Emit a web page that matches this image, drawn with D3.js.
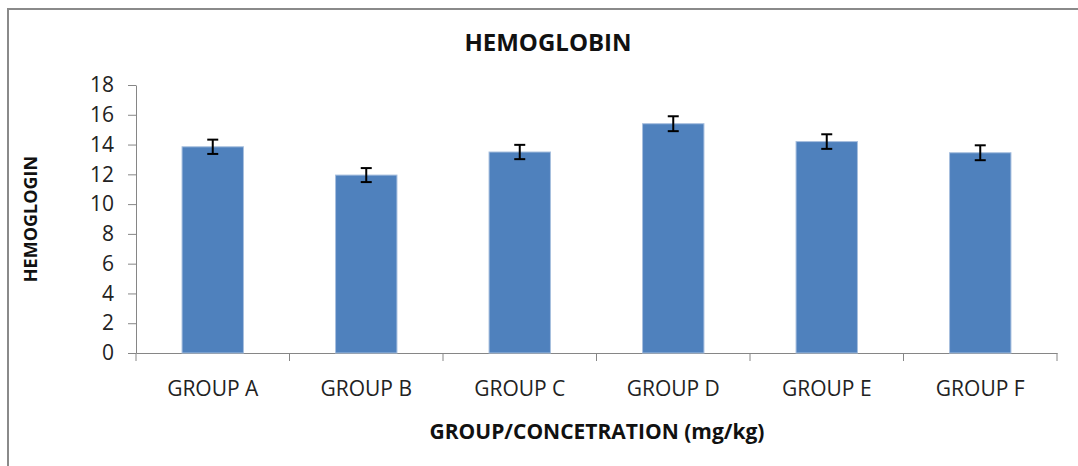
<!DOCTYPE html>
<html>
<head>
<meta charset="utf-8">
<script src="https://cdn.jsdelivr.net/npm/d3@7"></script>
<style>
  body { margin: 0; background: #fff; }
  svg { display: block; }
</style>
</head>
<body>
<svg id="chart" width="1078" height="466"></svg>
<script>
// data
var groups = ["GROUP A", "GROUP B", "GROUP C", "GROUP D", "GROUP E", "GROUP F"];
var means  = [13.85, 11.95, 13.5, 15.4, 14.2, 13.45];
var errs   = [0.48, 0.47, 0.48, 0.5, 0.49, 0.5];
var yTicks = [0, 2, 4, 6, 8, 10, 12, 14, 16, 18];

var svg = d3.select("#chart"),
    margin = {top: 85, right: 21, bottom: 113, left: 136},
    width = +svg.attr("width") - margin.left - margin.right,
    height = +svg.attr("height") - margin.top - margin.bottom;

var axisColor = "#868686";
var font = "'Open Sans', sans-serif";

// outer frame (only left and top edges show in the crop)
svg.append("path")
   .attr("d", "M8,466 V9 H1078")
   .attr("fill", "none")
   .attr("stroke", "#8a8a8a")
   .attr("stroke-width", 2);

var g = svg.append("g").attr("transform", "translate(" + margin.left + "," + margin.top + ")");

var xScale = d3.scaleBand().domain(groups).range([0, width]).paddingInner(0.6).paddingOuter(0.3);
var yScale = d3.scaleLinear().domain([0, 18]).range([height, 0]);
var band = d3.scaleBand().domain(groups).range([0, width]); // category boundaries for ticks

// y axis
var yAxis = g.append("g")
   .call(d3.axisLeft(yScale).tickValues(yTicks).tickSize(8).tickPadding(14).tickSizeOuter(0));
yAxis.select(".domain").attr("stroke", axisColor);
yAxis.selectAll(".tick line").attr("stroke", axisColor);
yAxis.selectAll(".tick text")
   .attr("font-family", font).attr("font-size", "21px").attr("fill", "#222");

// x axis: labels centered, ticks on band boundaries
var xAxis = g.append("g")
   .attr("transform", "translate(0," + height + ")")
   .call(d3.axisBottom(band).tickSize(0).tickPadding(28));
xAxis.select(".domain").attr("stroke", axisColor);
xAxis.selectAll(".tick text")
   .attr("font-family", font).attr("font-size", "21px").attr("fill", "#222");

var bounds = groups.map(function(d) { return band(d); }).concat([width]);
xAxis.selectAll(".bound")
   .data(bounds)
   .enter().append("line")
   .attr("class", "bound")
   .attr("x1", function(d) { return d; })
   .attr("x2", function(d) { return d; })
   .attr("y1", 0).attr("y2", 8)
   .attr("stroke", axisColor);

// bars
g.selectAll(".bar")
   .data(groups)
   .enter().append("rect")
   .attr("class", "bar")
   .attr("x", function(d) { return xScale(d); })
   .attr("y", function(d, i) { return yScale(means[i]); })
   .attr("width", xScale.bandwidth())
   .attr("height", function(d, i) { return height - yScale(means[i]); })
   .attr("fill", "#4f81bd")
   .attr("stroke", "#a7bfde")
   .attr("stroke-width", 1);

// error bars
var eb = g.selectAll(".err")
   .data(groups)
   .enter().append("g")
   .attr("class", "err")
   .attr("transform", function(d) { return "translate(" + (xScale(d) + xScale.bandwidth() / 2) + ",0)"; });
eb.append("line")
   .attr("y1", function(d, i) { return yScale(means[i] + errs[i]); })
   .attr("y2", function(d, i) { return yScale(means[i] - errs[i]); })
   .attr("stroke", "#000").attr("stroke-width", 2);
eb.append("line")
   .attr("x1", -5.5).attr("x2", 5.5)
   .attr("y1", function(d, i) { return yScale(means[i] + errs[i]); })
   .attr("y2", function(d, i) { return yScale(means[i] + errs[i]); })
   .attr("stroke", "#000").attr("stroke-width", 2);
eb.append("line")
   .attr("x1", -5.5).attr("x2", 5.5)
   .attr("y1", function(d, i) { return yScale(means[i] - errs[i]); })
   .attr("y2", function(d, i) { return yScale(means[i] - errs[i]); })
   .attr("stroke", "#000").attr("stroke-width", 2);

// titles
svg.append("text")
   .attr("x", 548).attr("y", 51)
   .attr("text-anchor", "middle")
   .attr("font-family", font).attr("font-weight", "bold").attr("font-size", "24px")
   .attr("fill", "#111")
   .text("HEMOGLOBIN");

svg.append("text")
   .attr("x", 597).attr("y", 439)
   .attr("text-anchor", "middle")
   .attr("font-family", font).attr("font-weight", "bold").attr("font-size", "21px")
   .attr("fill", "#111")
   .text("GROUP/CONCETRATION (mg/kg)");

svg.append("text")
   .attr("transform", "translate(37,219) rotate(-90)")
   .attr("text-anchor", "middle")
   .attr("font-family", font).attr("font-weight", "bold").attr("font-size", "18px")
   .attr("fill", "#111")
   .text("HEMOGLOGIN");
</script>
</body>
</html>
